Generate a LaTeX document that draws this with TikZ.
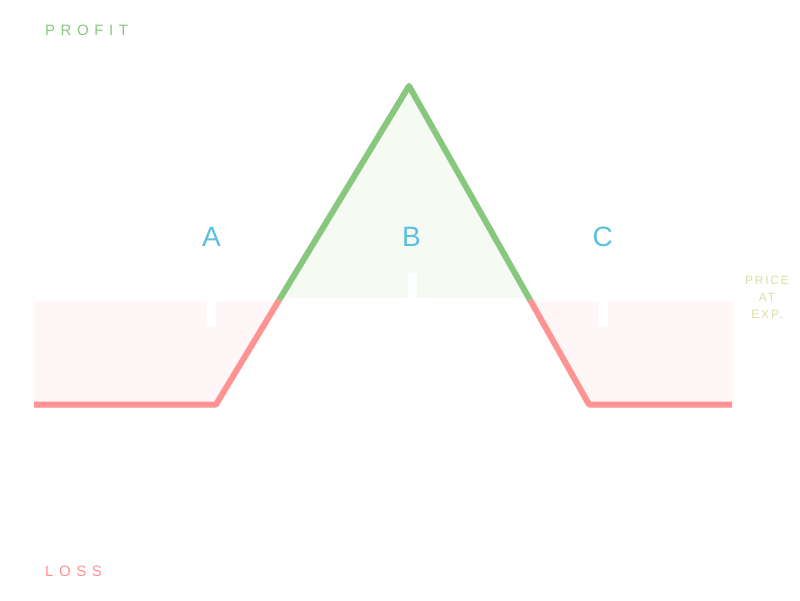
\documentclass[tikz,border=0pt]{standalone}
\usepackage{fontspec}
\setmainfont{Liberation Sans}
\newfontfamily\spacedfont[LetterSpace=37]{Liberation Sans}
\newfontfamily\smallspaced[LetterSpace=15]{Liberation Sans}
\definecolor{profitgreen}{RGB}{136,199,126}
\definecolor{lossred}{RGB}{255,146,146}
\definecolor{lossfill}{RGB}{255,247,247}
\definecolor{profitfill}{RGB}{245,250,243}
\definecolor{zonelabel}{RGB}{91,192,222}
\definecolor{pricelabel}{RGB}{221,221,165}
\tikzset{
  payoff/.style={line width=6pt, line join=round},
  axisline/.style={draw=white, line width=4pt},
  tickmark/.style={draw=white, line width=9pt},
  zonetext/.style={text=zonelabel, font=\fontsize{28}{30}\selectfont, inner sep=0pt, anchor=base},
  sidetext/.style={font=\spacedfont\fontsize{15}{17}\selectfont, inner sep=0pt, anchor=base west},
  pricetext/.style={text=pricelabel, font=\smallspaced\fontsize{12}{17}\selectfont, inner sep=0pt, align=center, anchor=north}
}
\begin{document}
\begin{tikzpicture}[x=1pt,y=-1pt]
\useasboundingbox (0,0) rectangle (800,600);
% key points
\coordinate (L0) at (34,404.5);
\coordinate (L1) at (216,404.5);
\coordinate (LZ) at (279.1,300);
\coordinate (P) at (409,86);
\coordinate (RZ) at (530.1,300);
\coordinate (R1) at (589,404.5);
\coordinate (R0) at (732,404.5);
\coordinate (AxL) at (34,300);
\coordinate (AxR) at (733,300);
% fills
\fill[lossfill] (34,300) -- (L0) -- (L1) -- (LZ) -- cycle;
\fill[lossfill] (RZ) -- (R1) -- (733,404.5) -- (733,300) -- cycle;
\fill[profitfill] (LZ) -- (P) -- (RZ) -- cycle;
% axis and ticks
\draw[axisline] (AxL) -- (AxR);
\coordinate (TA0) at (211.5,300); \coordinate (TA1) at (211.5,327);
\coordinate (TB0) at (412,300); \coordinate (TB1) at (412,273);
\coordinate (TC0) at (603,300); \coordinate (TC1) at (603,327);
\draw[tickmark] (TA0) -- (TA1);
\draw[tickmark] (TB0) -- (TB1);
\draw[tickmark] (TC0) -- (TC1);
% payoff line
\draw[payoff, draw=lossred] (L0) -- (L1) -- (LZ);
\draw[payoff, draw=profitgreen] (LZ) -- (P) -- (RZ);
\draw[payoff, draw=lossred] (RZ) -- (R1) -- (R0);
% labels
\node[zonetext] (labA) at (211.5,246.7) {A};
\node[zonetext] (labB) at (411.5,246.7) {B};
\node[zonetext] (labC) at (602.7,246.7) {C};
\node[sidetext, text=profitgreen] (profit) at (45,35.7) {PROFIT};
\node[sidetext, text=lossred] (loss) at (45,576) {LOSS};
\node[pricetext] (price) at (767,275.5) {PRICE\\AT\\EXP.};
\end{tikzpicture}
\end{document}
